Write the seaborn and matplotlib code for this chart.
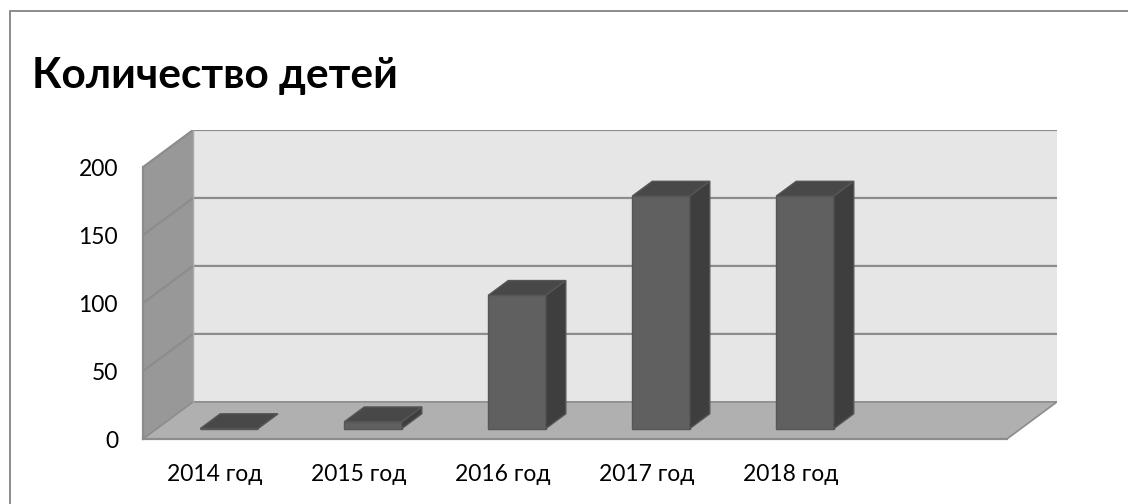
import matplotlib
matplotlib.use("Agg")
import matplotlib.pyplot as plt
from matplotlib.lines import Line2D
from matplotlib.patches import Polygon, Rectangle
import pandas as pd
import seaborn as sns

# data
years = ["2014 год", "2015 год", "2016 год", "2017 год", "2018 год"]
children = [0, 5, 98, 171, 171]
slots = years + [""]          # Excel left one empty category at the end
y_ticks = [0, 50, 100, 150, 200]
title = "Количество детей"

# fake-3D look (oblique projection), in data units
DX, DY = 0.348, 27.3          # depth of the floor / walls
F0, F1 = 0.28, 0.68           # bar front / back as fraction of depth

FRONT, TOP, SIDE, EDGE = "#606060", "#484848", "#3e3e3e", "#565656"
WALL_BACK, WALL_LEFT, FLOOR, GRID = "#e6e6e6", "#989898", "#b0b0b0", "#8c8c8c"

sns.set_style("white")
plt.rcParams["font.family"] = ["Lato", "DejaVu Sans"]

W, H = 1128, 504
fig = plt.figure(figsize=(W / 100, H / 100), dpi=100)
ax = fig.add_axes([143 / W, 65 / H, (1057 - 143) / W, (374 - 65) / H])

df = pd.DataFrame({"year": years, "children": children})
sns.barplot(data=df, x="year", y="children", order=slots, width=0.4,
            color=FRONT, saturation=1, edgecolor=EDGE, linewidth=1,
            ax=ax, zorder=5)

x_lo, x_hi = -0.5, len(slots) - 0.5
y_top = y_ticks[-1]
ax.set_xlim(x_lo, x_hi + DX)
ax.set_ylim(0, y_top + DY)

# walls and floor
ax.add_patch(Rectangle((x_lo + DX, DY), x_hi - x_lo, y_top, facecolor=WALL_BACK,
                       edgecolor="none", zorder=1))
ax.add_patch(Polygon([(x_lo, 0), (x_lo, y_top), (x_lo + DX, y_top + DY), (x_lo + DX, DY)],
                     closed=True, facecolor=WALL_LEFT, edgecolor="none", zorder=1))
ax.add_patch(Polygon([(x_lo, 0), (x_hi, 0), (x_hi + DX, DY), (x_lo + DX, DY)],
                     closed=True, facecolor=FLOOR, edgecolor=GRID, linewidth=1.2, zorder=2))
for v in y_ticks[1:]:
    ax.plot([x_lo, x_lo + DX, x_hi + DX], [v, v + DY, v + DY], color=GRID,
            linewidth=1.6, zorder=2, solid_capstyle="butt")
ax.plot([x_lo + DX, x_lo + DX], [DY, y_top + DY], color="#a8a8a8", linewidth=1, zorder=2)

# turn the flat seaborn bars into boxes
for p in list(ax.patches):
    if p.get_zorder() != 5:
        continue
    x0, w, h = p.get_x(), p.get_width(), p.get_height()
    ox, oy = F0 * DX, F0 * DY
    dx, dy = (F1 - F0) * DX, (F1 - F0) * DY
    p.set_xy((x0 + ox, oy))
    top = [(x0 + ox, h + oy), (x0 + w + ox, h + oy),
           (x0 + w + ox + dx, h + oy + dy), (x0 + ox + dx, h + oy + dy)]
    side = [(x0 + w + ox, oy), (x0 + w + ox, h + oy),
            (x0 + w + ox + dx, h + oy + dy), (x0 + w + ox + dx, oy + dy)]
    ax.add_patch(Polygon(top, closed=True, facecolor=TOP, edgecolor=EDGE, linewidth=1, zorder=6))
    ax.add_patch(Polygon(side, closed=True, facecolor=SIDE, edgecolor=EDGE, linewidth=1, zorder=6))

# axes, ticks, labels
for s in ["top", "right"]:
    ax.spines[s].set_visible(False)
ax.spines["left"].set_bounds(0, y_top)
ax.spines["bottom"].set_bounds(x_lo, x_hi)
for s in ["left", "bottom"]:
    ax.spines[s].set_color(GRID)
    ax.spines[s].set_linewidth(1.6)
    ax.spines[s].set_zorder(3)

ax.set_yticks(y_ticks)
ax.set_xticks(range(len(slots)))
ax.set_xticklabels(slots)
ax.set_xticks([x_lo + i for i in range(len(slots) + 1)], minor=True)
ax.tick_params(axis="y", length=5, width=1.4, color=GRID, pad=13, labelsize=16.5,
               labelcolor="black")
ax.tick_params(axis="x", which="major", length=0, pad=18, labelsize=16.5, labelcolor="black")
ax.tick_params(axis="x", which="minor", length=6, width=1.4, color=GRID)
ax.set_xlabel("")
ax.set_ylabel("")

fig.text(32 / W, 1 - 88 / H, title, fontsize=30.5, fontweight="bold", va="baseline",
         ha="left", color="black")

# chart frame (only its top and left edges are inside the picture)
fig.add_artist(Line2D([10 / W, 10 / W], [0, 1 - 11 / H],
                      transform=fig.transFigure, color="#8c8c8c", linewidth=1.4))
fig.add_artist(Line2D([10 / W, 1.02], [1 - 11 / H, 1 - 11 / H],
                      transform=fig.transFigure, color="#8c8c8c", linewidth=1.4,
                      clip_on=False))

fig.savefig("out.png", dpi=100)
